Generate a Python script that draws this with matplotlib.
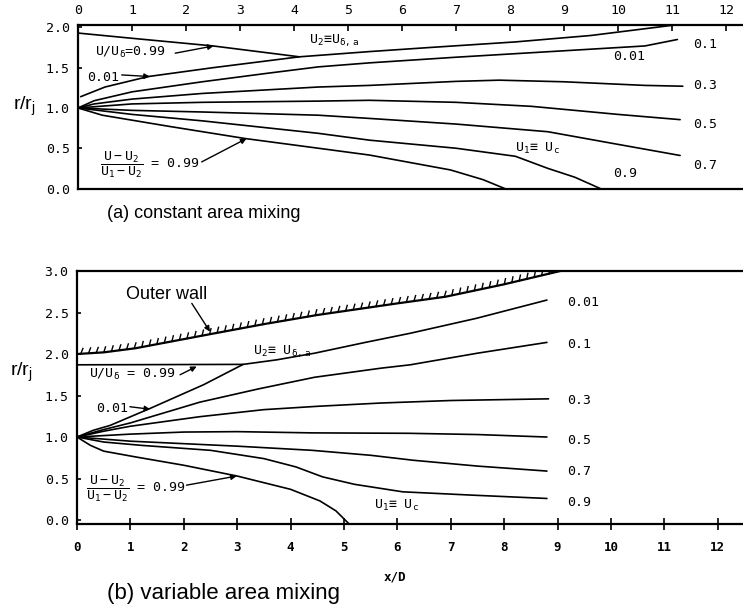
import matplotlib
matplotlib.use("Agg")
import matplotlib.pyplot as plt
import matplotlib.patheffects as pe

plt.rcParams['mathtext.fontset'] = 'dejavusans'
plt.rcParams['mathtext.default'] = 'regular'

# ---------------- data: (a) constant area mixing ----------------
a_x_outer99 = [0.0, 1.0, 2.5, 4.1]
a_y_outer99 = [1.93, 1.865, 1.77, 1.635]
a_x_001 = [0.05, 0.5, 1.3, 2.5, 4.1, 5.4, 6.5, 8.1, 9.5, 11.05]
a_y_001 = [1.14, 1.26, 1.39, 1.50, 1.635, 1.70, 1.75, 1.82, 1.90, 2.03]
a_x_01 = [0, 0.3, 1.0, 2.3, 3.5, 4.45, 5.4, 7.0, 9.0, 10.5, 11.1]
a_y_01 = [1.0, 1.09, 1.20, 1.325, 1.43, 1.51, 1.56, 1.63, 1.71, 1.77, 1.85]
a_x_03 = [0, 0.3, 1.0, 2.3, 4.45, 5.4, 7.0, 7.8, 9.0, 10.5, 11.2]
a_y_03 = [1.0, 1.05, 1.11, 1.18, 1.26, 1.28, 1.33, 1.345, 1.325, 1.28, 1.27]
a_x_05 = [0, 1.0, 2.3, 4.45, 5.4, 7.0, 8.4, 10.0, 11.15]
a_y_05 = [1.0, 1.05, 1.07, 1.085, 1.095, 1.07, 1.02, 0.92, 0.855]
a_x_07 = [0, 1.0, 2.3, 4.45, 5.4, 7.0, 8.7, 9.9, 11.15]
a_y_07 = [1.0, 0.97, 0.95, 0.91, 0.87, 0.80, 0.705, 0.56, 0.41]
a_x_09 = [0, 1.0, 2.3, 4.45, 5.4, 7.0, 8.1, 8.7, 9.2, 9.67]
a_y_09 = [1.0, 0.92, 0.84, 0.685, 0.60, 0.50, 0.40, 0.25, 0.14, 0.0]
a_x_099 = [0, 0.45, 1.7, 3.1, 4.45, 5.4, 6.9, 7.5, 7.9]
a_y_099 = [1.0, 0.91, 0.77, 0.62, 0.50, 0.415, 0.23, 0.11, 0.0]

# ---------------- data: (b) variable area mixing ----------------
b_x_wall = [0, 0.5, 1.1, 2.5, 3.5, 4.5, 6.0, 6.9, 8.0, 9.05]
b_y_wall = [2.0, 2.02, 2.07, 2.24, 2.36, 2.47, 2.61, 2.69, 2.84, 3.0]
b_x_outer99 = [0, 3.11]
b_y_outer99 = [1.87, 1.875]
b_x_001 = [0, 0.3, 0.62, 1.37, 2.37, 3.11, 3.74, 4.45, 5.4, 6.24, 7.48, 8.8]
b_y_001 = [1.0, 1.08, 1.14, 1.345, 1.63, 1.875, 1.93, 2.01, 2.14, 2.25, 2.43, 2.65]
b_x_01 = [0, 0.5, 1.0, 2.3, 3.4, 4.45, 5.7, 6.24, 7.5, 8.8]
b_y_01 = [1.0, 1.09, 1.17, 1.42, 1.58, 1.72, 1.83, 1.87, 2.01, 2.14]
b_x_03 = [0, 0.5, 1.0, 2.3, 3.5, 4.5, 5.7, 7.0, 8.83]
b_y_03 = [1.0, 1.07, 1.13, 1.245, 1.33, 1.37, 1.41, 1.44, 1.46]
b_x_05 = [0, 1.0, 2.0, 3.0, 4.4, 6.2, 7.5, 8.8]
b_y_05 = [1.0, 1.035, 1.06, 1.065, 1.05, 1.045, 1.03, 1.0]
b_x_07 = [0, 1.0, 2.0, 3.0, 4.4, 5.5, 6.3, 7.5, 8.8]
b_y_07 = [1.0, 0.95, 0.92, 0.89, 0.84, 0.78, 0.72, 0.65, 0.59]
b_x_09 = [0, 0.5, 1.2, 2.5, 3.5, 4.1, 4.6, 5.2, 6.1, 7.4, 8.8]
b_y_09 = [1.0, 0.94, 0.90, 0.84, 0.74, 0.64, 0.52, 0.43, 0.34, 0.30, 0.26]
b_x_099 = [0, 0.25, 0.5, 1.1, 2.0, 3.0, 4.0, 4.55, 4.85, 5.1]
b_y_099 = [1.0, 0.9, 0.83, 0.76, 0.66, 0.53, 0.37, 0.23, 0.11, -0.05]

x_ticks = list(range(0, 13))
a_y_ticks = [0.0, 0.5, 1.0, 1.5, 2.0]
b_y_ticks = [0.0, 0.5, 1.0, 1.5, 2.0, 2.5, 3.0]

a_right_labels = ["0.1", "0.01", "0.3", "0.5", "0.7", "0.9"]
a_right_x = [11.39, 9.91, 11.39, 11.39, 11.39, 9.91]
a_right_y = [1.79, 1.64, 1.28, 0.80, 0.29, 0.19]
b_right_labels = ["0.01", "0.1", "0.3", "0.5", "0.7", "0.9"]
b_right_y = [2.62, 2.11, 1.446, 0.964, 0.58, 0.21]

MONO = 'DejaVu Sans Mono'
SANS = 'Liberation Sans'
LW = 1.2
FRAC = r"$\dfrac{U-U_2}{U_1-U_2}$ = 0.99"

fig = plt.figure(figsize=(7.43, 6.09), dpi=100)

# ---------- top axes ----------
axA = fig.add_axes([78/743, 1-188.5/609, 665/743, 163.5/609])
axA.set_xlim(0, 665/54.0)
axA.set_ylim(0, 2.03)
for s in ['top', 'bottom', 'left']:
    axA.spines[s].set_linewidth(1.6)
axA.spines['right'].set_visible(False)
axA.xaxis.tick_top()
axA.set_xticks(x_ticks)
axA.set_xticklabels([str(t) for t in x_ticks], fontfamily=MONO, fontsize=9.5)
axA.tick_params(axis='x', direction='in', length=4, width=1.2, pad=6, top=True, bottom=False)
axA.set_yticks(a_y_ticks)
axA.set_yticklabels(["%.1f" % v for v in a_y_ticks], fontfamily=MONO, fontsize=9.5)
axA.tick_params(axis='y', direction='in', length=3, width=1.2, pad=6)
axA.set_ylabel("r/r$_j$", rotation=0, fontfamily=SANS, fontsize=14, ha='center', va='center')
axA.yaxis.set_label_coords(-0.08, 0.5)

for xs, ys in [(a_x_outer99, a_y_outer99), (a_x_001, a_y_001), (a_x_01, a_y_01),
               (a_x_03, a_y_03), (a_x_05, a_y_05), (a_x_07, a_y_07),
               (a_x_09, a_y_09), (a_x_099, a_y_099)]:
    axA.plot(xs, ys, color='black', lw=LW, solid_capstyle='round', clip_on=False)

arrow = dict(arrowstyle='-|>', color='black', lw=1.0, mutation_scale=8, shrinkA=0, shrinkB=0)
axA.text(0.98, 1.69, "U/U$_\\delta$=0.99", fontfamily=MONO, fontsize=9.5, ha='center', va='center')
axA.annotate("", xy=(2.51, 1.77), xytext=(1.80, 1.68), arrowprops=arrow)
axA.text(0.46, 1.38, "0.01", fontfamily=MONO, fontsize=9.5, ha='center', va='center')
axA.annotate("", xy=(1.33, 1.39), xytext=(0.81, 1.41), arrowprops=arrow)
axA.text(4.74, 1.84, "U$_2$\u2261U$_{\\delta,a}$", fontfamily=MONO, fontsize=9.5, ha='center', va='center')
axA.text(1.33, 0.29, FRAC, fontfamily=MONO, fontsize=9.5, ha='center', va='center')
axA.annotate("", xy=(3.12, 0.62), xytext=(2.29, 0.33), arrowprops=arrow)
axA.text(8.5, 0.50, "U$_1$\u2261 U$_c$", fontfamily=MONO, fontsize=9.5, ha='center', va='center')
for lab, xx, yy in zip(a_right_labels, a_right_x, a_right_y):
    axA.text(xx, yy, lab, fontfamily=MONO, fontsize=9.5, ha='left', va='center')

fig.text(107/743, 1-213/609, "(a) constant area mixing", fontfamily=SANS, fontsize=13, ha='left', va='center')

# ---------- bottom axes ----------
axB = fig.add_axes([77/743, 1-524.2/609, 666/743, 253.2/609])
axB.set_xlim(0, 666/53.4)
axB.set_ylim(-0.05, 3.0)
for s in ['top', 'bottom', 'left']:
    axB.spines[s].set_linewidth(1.6)
axB.spines['right'].set_visible(False)
axB.set_xticks(x_ticks)
axB.set_xticklabels([str(t) for t in x_ticks], fontfamily=MONO, fontsize=9, fontweight='bold')
axB.tick_params(axis='x', direction='inout', length=8, width=1.2, pad=8)
axB.set_yticks(b_y_ticks)
axB.set_yticklabels(["%.1f" % v for v in b_y_ticks], fontfamily=MONO, fontsize=9.5)
axB.tick_params(axis='y', direction='in', length=3, width=1.2, pad=6)
axB.set_ylabel("r/r$_j$", rotation=0, fontfamily=SANS, fontsize=14, ha='center', va='center')
axB.yaxis.set_label_coords(-0.083, 0.60)
axB.set_xlabel("x/D", fontfamily=MONO, fontsize=9, fontweight='bold')
axB.xaxis.set_label_coords((395-77)/666, -(571-524.2)/253.2)

axB.plot(b_x_wall, b_y_wall, color='black', lw=1.6,
         path_effects=[pe.withTickedStroke(spacing=5.5, angle=65, length=0.75, linewidth=1.0)])
for xs, ys in [(b_x_outer99, b_y_outer99), (b_x_001, b_y_001), (b_x_01, b_y_01),
               (b_x_03, b_y_03), (b_x_05, b_y_05), (b_x_07, b_y_07),
               (b_x_09, b_y_09), (b_x_099, b_y_099)]:
    axB.plot(xs, ys, color='black', lw=LW, solid_capstyle='round')

axB.text(1.67, 2.72, "Outer wall", fontfamily=SANS, fontsize=13, ha='center', va='center')
axB.annotate("", xy=(2.49, 2.27), xytext=(2.15, 2.61), arrowprops=arrow)
axB.text(3.3, 2.03, "U$_2$\u2261 U$_{\\delta,a}$", fontfamily=MONO, fontsize=9.5, ha='left', va='center')
axB.text(1.03, 1.75, "U/U$_\\delta$ = 0.99", fontfamily=MONO, fontsize=9.5, ha='center', va='center')
axB.annotate("", xy=(2.24, 1.85), xytext=(1.93, 1.75), arrowprops=arrow)
axB.text(0.66, 1.345, "0.01", fontfamily=MONO, fontsize=9.5, ha='center', va='center')
axB.annotate("", xy=(1.37, 1.335), xytext=(0.99, 1.365), arrowprops=arrow)
axB.text(1.10, 0.38, FRAC, fontfamily=MONO, fontsize=9.5, ha='center', va='center')
axB.annotate("", xy=(2.99, 0.53), xytext=(2.05, 0.42), arrowprops=arrow)
axB.text(5.99, 0.17, "U$_1$\u2261 U$_c$", fontfamily=MONO, fontsize=9.5, ha='center', va='center')
for lab, yy in zip(b_right_labels, b_right_y):
    axB.text(9.17, yy, lab, fontfamily=MONO, fontsize=9.5, ha='left', va='center')

fig.text(107/743, 1-593/609, "(b) variable area mixing", fontfamily=SANS, fontsize=16, ha='left', va='center')

fig.savefig("out.png", dpi=100)
